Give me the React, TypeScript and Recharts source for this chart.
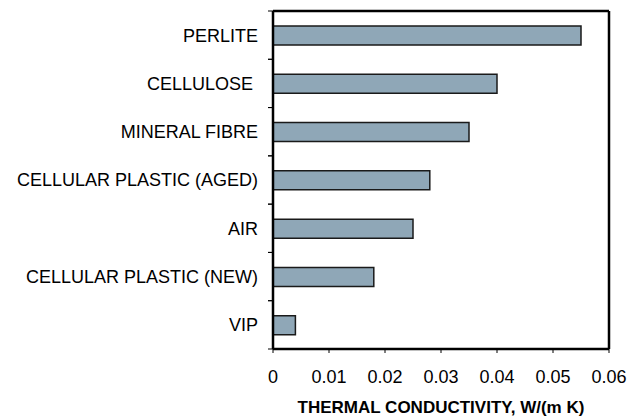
import React from 'react';
import { BarChart, Bar, XAxis, YAxis } from 'recharts';

const categories = [
  'PERLITE',
  'CELLULOSE\u00a0',
  'MINERAL FIBRE',
  'CELLULAR PLASTIC (AGED)',
  'AIR',
  'CELLULAR PLASTIC (NEW)',
  'VIP',
];
const conductivity = [0.055, 0.04, 0.035, 0.028, 0.025, 0.018, 0.004];
const xTicks = [0, 0.01, 0.02, 0.03, 0.04, 0.05, 0.06];
const axisTitle = 'THERMAL CONDUCTIVITY, W/(m K)';

const data = categories.map((name, i) => ({ name, value: conductivity[i] }));

const FONT = '"Liberation Sans", Arial, sans-serif';
const FRAME = { stroke: '#000', strokeWidth: 2.5 };

const CategoryTick = (props: any) => {
  const { x, y, payload } = props;
  const half = payload && typeof payload.offset === 'number' ? payload.offset : 0;
  return (
    <g>
      <line x1={x - 5} x2={x} y1={y - half} y2={y - half} stroke="#000" strokeWidth={1} />
      <line x1={x - 5} x2={x} y1={y + half} y2={y + half} stroke="#000" strokeWidth={1} />
      <text
        x={x - 15}
        y={y}
        dy="0.355em"
        textAnchor="end"
        fill="#000"
        fontSize={18}
        fontFamily={FONT}
      >
        {payload.value}
      </text>
    </g>
  );
};

export default function App() {
  return (
    <div>
      <style>{'body{margin:0}'}</style>
      <BarChart
        width={639}
        height={417}
        data={data}
        layout="vertical"
        margin={{ top: 10, right: 29, bottom: 0, left: 0 }}
      >
        <XAxis
          type="number"
          domain={[0, 0.06]}
          ticks={xTicks}
          interval={0}
          allowDataOverflow
          height={68}
          tickSize={4}
          tickMargin={17}
          axisLine={FRAME}
          tickLine={{ stroke: '#000' }}
          tick={{ fill: '#000', fontSize: 18, fontFamily: FONT }}
          label={{
            value: axisTitle,
            position: 'insideBottom',
            offset: 4,
            fill: '#000',
            fontSize: 17,
            fontWeight: 'bold',
            fontFamily: FONT,
          }}
        />
        <XAxis
          xAxisId="top"
          orientation="top"
          type="number"
          domain={[0, 0.06]}
          ticks={xTicks}
          allowDataOverflow
          height={1}
          tick={false}
          tickLine={false}
          axisLine={FRAME}
        />
        <YAxis
          type="category"
          dataKey="name"
          width={273}
          interval={0}
          tickSize={0}
          tickMargin={0}
          axisLine={FRAME}
          tickLine={false}
          tick={<CategoryTick />}
        />
        <YAxis
          yAxisId="right"
          orientation="right"
          type="category"
          dataKey="name"
          width={1}
          interval={0}
          tick={false}
          tickLine={false}
          axisLine={FRAME}
        />
        <Bar
          dataKey="value"
          fill="#8FA7B7"
          stroke="#1a1a1a"
          strokeWidth={1.5}
          barSize={19}
          isAnimationActive={false}
        />
      </BarChart>
    </div>
  );
}
